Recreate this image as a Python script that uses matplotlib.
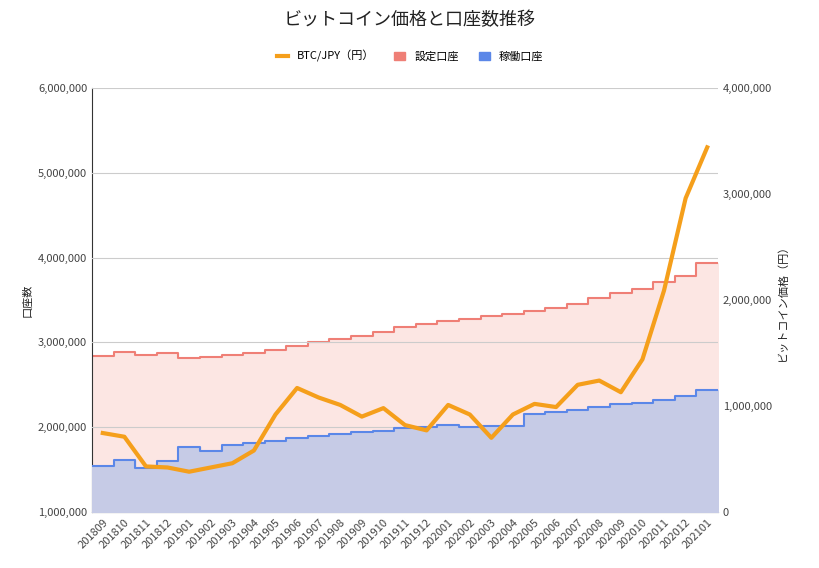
import matplotlib
matplotlib.use("Agg")
import matplotlib.pyplot as plt
import numpy as np
from matplotlib.ticker import FuncFormatter

plt.rcParams['font.family'] = ['Noto Sans CJK JP', 'DejaVu Sans']

months = ["201809","201810","201811","201812","201901","201902","201903","201904","201905","201906",
          "201907","201908","201909","201910","201911","201912","202001","202002","202003","202004",
          "202005","202006","202007","202008","202009","202010","202011","202012","202101"]
setting = [2.84,2.89,2.85,2.87,2.82,2.83,2.85,2.87,2.91,2.96,3.00,3.04,3.08,3.12,3.18,3.22,3.25,3.28,
           3.31,3.33,3.37,3.41,3.45,3.52,3.58,3.63,3.71,3.78,3.94]
active = [1.54,1.61,1.52,1.60,1.77,1.72,1.79,1.81,1.84,1.87,1.90,1.92,1.94,1.96,1.99,2.00,2.03,2.00,
          2.01,2.02,2.16,2.18,2.20,2.24,2.27,2.29,2.32,2.37,2.44]
btc = [0.745,0.71,0.43,0.42,0.38,0.42,0.46,0.58,0.92,1.17,1.08,1.01,0.90,0.98,0.82,0.77,1.01,0.92,
       0.70,0.92,1.02,0.99,1.20,1.24,1.13,1.44,2.09,2.96,3.44]
setting = np.array(setting)*1e6
active = np.array(active)*1e6
btc = np.array(btc)*1e6

n = len(months)
x = np.arange(n)
xs = np.concatenate([np.repeat(np.arange(n)-0.5, 1), [n-0.5]])
def stepxy(v):
    xx = np.repeat(np.arange(n+1)-0.5, 2)[1:-1]
    yy = np.repeat(v, 2)
    return xx, yy

fig = plt.figure(figsize=(8.2,5.68), dpi=100)
ax = fig.add_axes([92/820, 1-512/568, (718-92)/820, (512-88)/568])
sx, sy = stepxy(setting)
ax.fill_between(sx, 1e6, sy, color='#fce6e3', zorder=1)
ax.plot(sx, sy, color='#ef7f76', lw=1.5, zorder=2)
axx, ay = stepxy(active)
ax.fill_between(axx, 1e6, ay, color='#c6cbe6', zorder=3)
ax.plot(axx, ay, color='#5b87e8', lw=1.5, zorder=4)
ax.set_ylim(1e6, 6e6)
ax.set_xlim(-0.5, n-0.5)
ax.set_yticks(np.arange(1e6, 6.01e6, 1e6))
ax.yaxis.set_major_formatter(FuncFormatter(lambda v,p: f"{int(v):,}"))
ax.grid(axis='y', color='#cccccc', lw=0.8)
ax.set_axisbelow(False)
for s in ['top','right']:
    ax.spines[s].set_visible(False)
ax.spines['left'].set_color('#333333')
ax.spines['bottom'].set_color('#333333')
ax.set_xticks(x)
ax.set_xticklabels(months, rotation=45, ha='right', rotation_mode='anchor', fontsize=8, color='#444444')
ax.tick_params(length=0, labelsize=8, colors='#444444')
ax.set_ylabel("口座数", fontsize=8, color='#222222')

ax2 = ax.twinx()
ax2.plot(x, btc, color='#f59f1b', lw=3, zorder=5)
ax2.set_ylim(0, 4e6)
ax2.set_yticks(np.arange(0, 4.01e6, 1e6))
ax2.yaxis.set_major_formatter(FuncFormatter(lambda v,p: f"{int(v):,}"))
ax2.tick_params(length=0, labelsize=8, colors='#444444')
for s in ['top','right','left','bottom']:
    ax2.spines[s].set_visible(False)
ax2.set_ylabel("ビットコイン価格（円）", fontsize=8, color='#222222')

fig.text(0.5, 1-20/568, "ビットコイン価格と口座数推移", ha='center', va='center', fontsize=13, color='#222222')
from matplotlib.lines import Line2D
from matplotlib.patches import Patch
handles = [Line2D([0],[0],color='#f59f1b',lw=3),
           Patch(color='#ef7f76'), Patch(color='#5b87e8')]
fig.legend(handles, ["BTC/JPY（円）","設定口座","稼働口座"], loc='center', bbox_to_anchor=(0.5, 1-56/568),
           ncol=3, frameon=False, fontsize=8, handlelength=1.0, columnspacing=1.8)
fig.savefig("out.png", dpi=100)
